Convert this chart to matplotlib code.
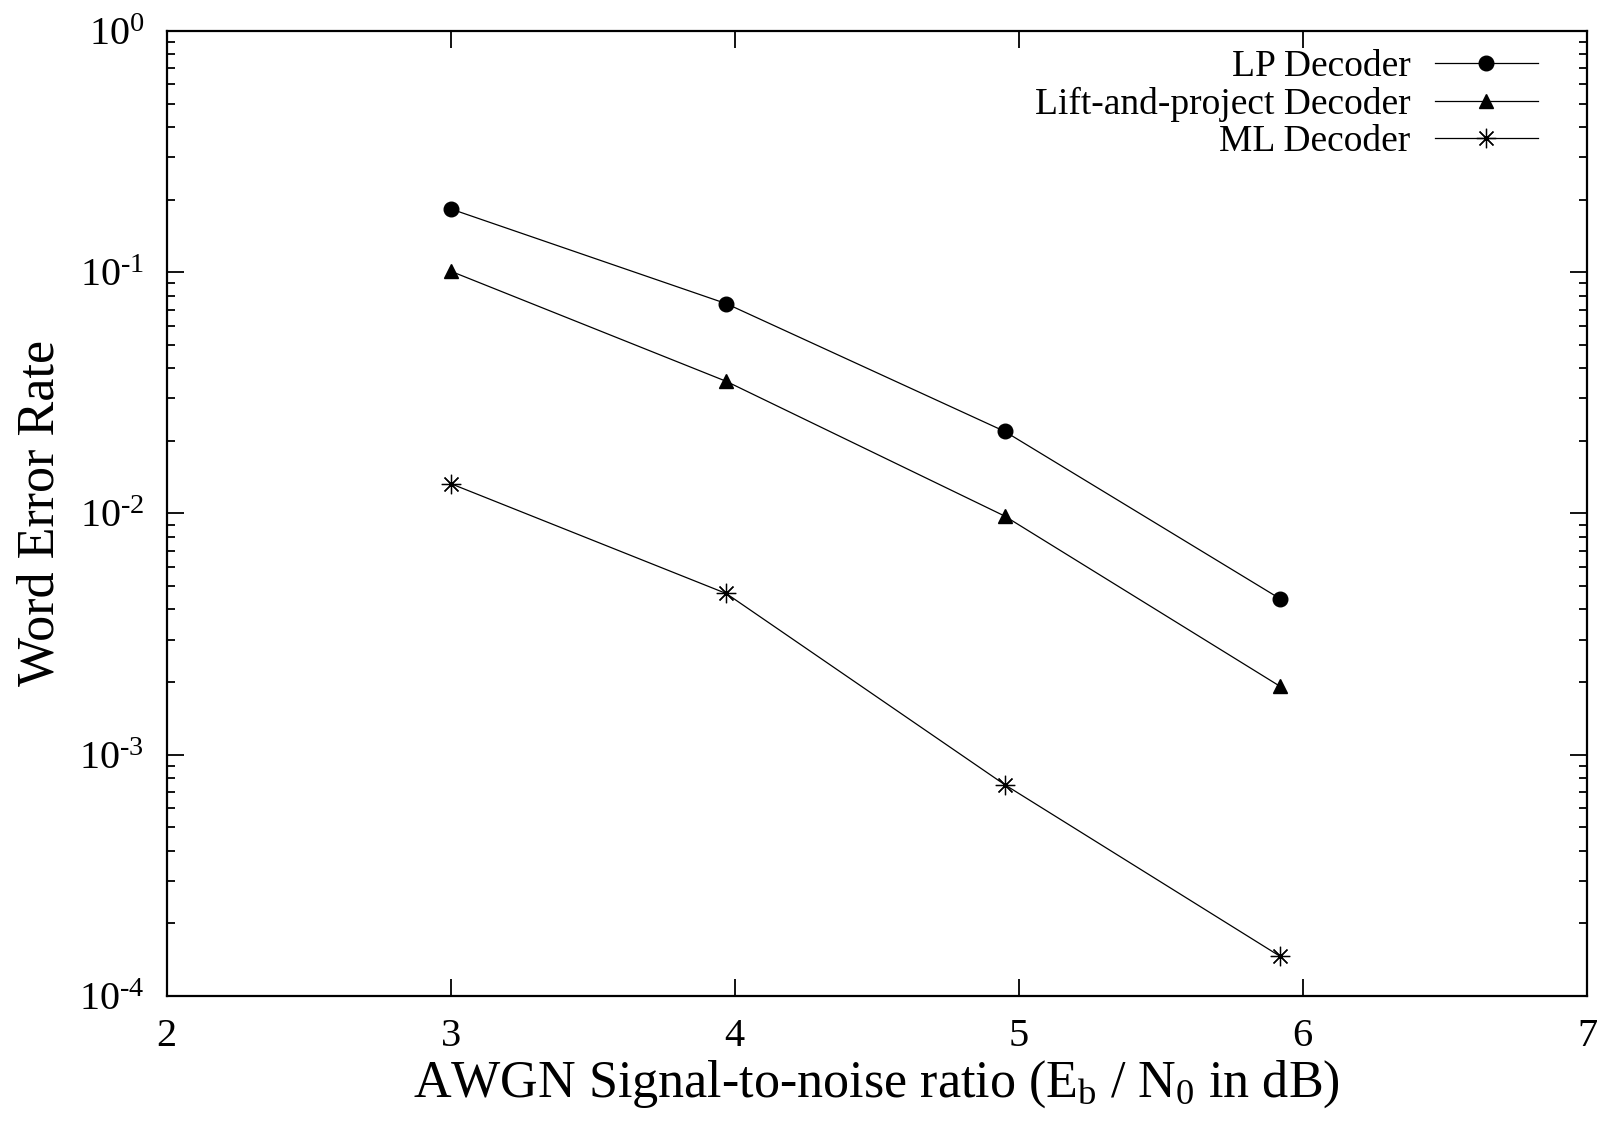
import matplotlib
matplotlib.use('Agg')
import matplotlib.pyplot as plt
from matplotlib.ticker import LogLocator, NullFormatter

plt.rcParams['font.family'] = ['Liberation Serif', 'DejaVu Serif']
plt.rcParams['mathtext.fontset'] = 'custom'
plt.rcParams['mathtext.rm'] = 'Liberation Serif'
plt.rcParams['mathtext.it'] = 'Liberation Serif:italic'

# valeurs
snr = [3.0, 3.97, 4.95, 5.92]
lp_wer = [0.183, 0.0741, 0.0219, 0.00443]
lift_wer = [0.101, 0.0353, 0.00976, 0.00192]
ml_wer = [0.0133, 0.00466, 0.000752, 0.000146]

xticks = [2, 3, 4, 5, 6, 7]
yticks = [1e-4, 1e-3, 1e-2, 1e-1, 1e0]
ytick_labels = ['10$^{\\mathrm{\u20104}}$', '10$^{\\mathrm{\u20103}}$', '10$^{\\mathrm{\u20102}}$',
                '10$^{\\mathrm{\u20101}}$', '10$^{\\mathrm{0}}$']

fig = plt.figure(figsize=(16.02, 11.22), dpi=100)
ax = fig.add_axes([0.104, 0.1123, 0.8866, 0.8601])

ax.plot(snr, lp_wer, color='black', lw=0.9, marker='o', ms=10.5, label='LP Decoder')
ax.plot(snr, lift_wer, color='black', lw=0.9, marker='^', ms=9.5, label='Lift-and-project Decoder')
ax.plot(snr, ml_wer, color='black', lw=0.9, marker=(8, 2, 0), ms=14, mew=0.9,
        label='ML Decoder')

ax.set_yscale('log')
ax.set_xlim(2, 7)
ax.set_ylim(1e-4, 1)
ax.set_xticks(xticks)
ax.set_xticklabels([str(t) for t in xticks])
ax.set_yticks(yticks)
ax.set_yticklabels(ytick_labels)
ax.yaxis.set_minor_locator(LogLocator(base=10, subs=range(2, 10), numticks=20))
ax.yaxis.set_minor_formatter(NullFormatter())

ax.tick_params(which='both', direction='in', top=True, right=True, width=1.3, labelsize=29)
ax.tick_params(axis='x', which='major', length=12, pad=16)
ax.tick_params(axis='y', which='major', length=12, pad=16)
ax.tick_params(which='minor', length=6)
for s in ax.spines.values():
    s.set_linewidth(1.6)

ax.set_xlabel('AWGN Signal-to-noise ratio (E$_{\\mathrm{b}}$ / N$_{\\mathrm{0}}$ in dB)',
              fontsize=37.5, labelpad=2)
ax.set_ylabel('Word Error Rate', fontsize=37.5, labelpad=10)

ax.legend(loc='upper right', bbox_to_anchor=(0.9655, 0.981), frameon=False,
          markerfirst=False, fontsize=27, handlelength=2.75, borderpad=0,
          borderaxespad=0, labelspacing=0.08, handletextpad=0.65)

fig.savefig('out.png', dpi=100)
